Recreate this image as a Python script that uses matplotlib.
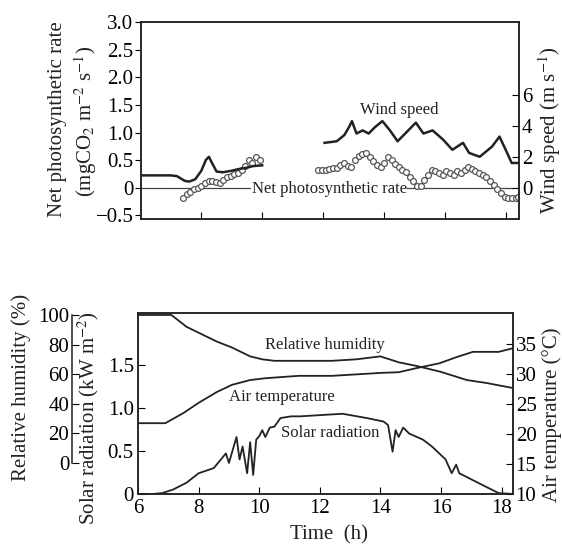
import matplotlib
matplotlib.use("Agg")
import matplotlib.pyplot as plt

plt.rcParams['font.family'] = ['Liberation Serif', 'DejaVu Serif']
plt.rcParams['mathtext.fontset'] = 'stix'

# ---- top panel data ----
# net photosynthetic rate (mgCO2 m-2 s-1), two measuring periods
rate_t1 = [7.40, 7.52, 7.64, 7.76, 7.88, 8.00, 8.12, 8.24, 8.36, 8.48, 8.60,
           8.72, 8.84, 8.96, 9.08, 9.20, 9.32, 9.44, 9.56, 9.68, 9.80, 9.92]
rate_v1 = [-0.18, -0.12, -0.07, -0.03, 0.00, 0.03, 0.08, 0.13, 0.12, 0.10, 0.08,
           0.14, 0.19, 0.22, 0.25, 0.27, 0.33, 0.40, 0.50, 0.45, 0.55, 0.50]
rate_t2 = [11.85, 11.97, 12.09, 12.21, 12.33, 12.45, 12.57, 12.69, 12.81, 12.93,
           13.05, 13.17, 13.29, 13.41, 13.53, 13.65, 13.77, 13.89, 14.01, 14.13,
           14.25, 14.37, 14.49, 14.61, 14.73, 14.85, 14.97, 15.09, 15.21, 15.33,
           15.45, 15.57, 15.69, 15.81, 15.93, 16.05, 16.17, 16.29, 16.41, 16.53,
           16.65, 16.77, 16.89, 17.01, 17.13, 17.25, 17.37, 17.49, 17.61, 17.73,
           17.85, 17.97, 18.09, 18.21, 18.33, 18.42]
rate_v2 = [0.33, 0.33, 0.33, 0.34, 0.35, 0.36, 0.42, 0.45, 0.40, 0.38,
           0.50, 0.58, 0.62, 0.63, 0.56, 0.48, 0.42, 0.38, 0.45, 0.56,
           0.50, 0.43, 0.38, 0.33, 0.28, 0.20, 0.12, 0.03, 0.04, 0.15,
           0.24, 0.32, 0.30, 0.26, 0.24, 0.30, 0.27, 0.24, 0.30, 0.26,
           0.33, 0.37, 0.34, 0.30, 0.27, 0.23, 0.19, 0.13, 0.06, -0.03,
           -0.10, -0.16, -0.18, -0.18, -0.18, -0.17]

# wind speed (m s-1)
wind_t1 = [6.0, 6.5, 7.0, 7.2, 7.45, 7.6, 7.8, 8.0, 8.15, 8.25, 8.35, 8.5,
           8.7, 9.0, 9.2, 9.5, 9.7, 10.0]
wind_v1 = [0.8, 0.8, 0.8, 0.75, 0.45, 0.4, 0.55, 1.1, 1.8, 2.0, 1.6, 1.05,
           1.0, 1.1, 1.2, 1.3, 1.4, 1.45]
wind_t2 = [12.05, 12.45, 12.7, 12.85, 12.95, 13.1, 13.3, 13.5, 13.7, 13.95,
           14.2, 14.45, 14.75, 15.05, 15.3, 15.6, 15.95, 16.25, 16.6, 16.8,
           17.15, 17.55, 17.8, 18.05, 18.2, 18.45]
wind_v2 = [2.9, 3.0, 3.4, 3.9, 4.3, 3.5, 3.7, 3.5, 3.9, 4.3,
           3.7, 3.0, 3.6, 4.2, 3.5, 3.7, 3.1, 2.45, 2.9, 2.25,
           2.0, 2.65, 3.3, 2.25, 1.6, 1.6]

# ---- bottom panel data ----
rh_t = [6.0, 7.1, 7.6, 8.0, 8.6, 9.1, 9.7, 10.1, 10.5, 11.3, 12.4, 13.2,
        14.0, 14.6, 15.2, 16.0, 16.85, 17.5, 18.37]
rh_v = [100, 100, 92, 88, 82, 78, 72, 70, 69, 69, 69, 70,
        72, 68, 65.5, 61.5, 56, 54, 50.6]

temp_t = [6.0, 6.9, 7.5, 8.0, 8.6, 9.1, 9.7, 10.2, 11.3, 12.4, 14.05, 14.6,
          15.2, 15.95, 16.5, 17.05, 17.9, 18.37]
temp_v = [21.8, 21.8, 23.5, 25.2, 27.0, 28.2, 29.0, 29.3, 29.7, 29.7, 30.2, 30.3,
          31.0, 31.8, 32.8, 33.7, 33.7, 34.3]

solar_t = [6.0, 6.5, 6.8, 7.15, 7.6, 8.0, 8.5, 8.9, 9.0, 9.25, 9.35, 9.45, 9.6,
           9.7, 9.8, 9.9, 10.0, 10.1, 10.2, 10.35, 10.5, 10.7, 11.05, 11.35,
           12.75, 13.55, 14.1, 14.25, 14.4, 14.5, 14.6, 14.75, 14.95, 15.4,
           15.7, 16.15, 16.35, 16.5, 16.6, 17.05, 17.5, 17.9, 18.37]
solar_v = [0, 0, 0.01, 0.05, 0.13, 0.24, 0.30, 0.47, 0.36, 0.66, 0.40, 0.55, 0.24,
           0.60, 0.22, 0.63, 0.67, 0.74, 0.66, 0.77, 0.78, 0.88, 0.90, 0.90,
           0.93, 0.88, 0.84, 0.80, 0.49, 0.74, 0.66, 0.77, 0.70, 0.63,
           0.55, 0.40, 0.24, 0.34, 0.24, 0.16, 0.08, 0.01, 0]

# tick labels
rate_ticks = [-0.5, 0, 0.5, 1.0, 1.5, 2.0, 2.5, 3.0]
rate_labels = ["\u22120.5", "0", "0.5", "1.0", "1.5", "2.0", "2.5", "3.0"]
wind_ticks = [0, 2, 4, 6]
hours = [6, 8, 10, 12, 14, 16, 18]
solar_ticks = [0, 0.5, 1.0, 1.5]
solar_labels = ["0", "0.5", "1.0", "1.5"]
rh_ticks = [0, 20, 40, 60, 80, 100]
temp_ticks = [10, 15, 20, 25, 30, 35]

ink = '#222222'
tick_fs = 15
lab_fs = 15
note_fs = 12

fig = plt.figure(figsize=(5.62, 5.47), dpi=100)

# ================= top panel =================
ax1 = fig.add_axes([0.250, 0.600, 0.674, 0.360])
ax1.axhline(0, color='#444444', lw=0.9)
ax1.plot(rate_t1, rate_v1, 'o', ms=4.2, mfc='white', mec='#555555', mew=0.9)
ax1.plot(rate_t2, rate_v2, 'o', ms=4.2, mfc='white', mec='#555555', mew=0.9)
ax1.set_xlim(6, 18.45)
ax1.set_ylim(-0.56, 3.0)
ax1.set_yticks(rate_ticks)
ax1.set_yticklabels(rate_labels)
ax1.set_xticks(hours[1:])
ax1.set_xticklabels([])
ax1.tick_params(axis='y', direction='out', labelsize=tick_fs, length=4, pad=1)
ax1.tick_params(axis='x', direction='in', length=5)
ax1.text(12.2, -0.03, "Net photosynthetic rate", ha='center', va='center',
         fontsize=note_fs, color=ink,
         bbox=dict(facecolor='white', edgecolor='none', pad=0.5))

ax1w = ax1.twinx()
ax1w.plot(wind_t1, wind_v1, color=ink, lw=1.8)
ax1w.plot(wind_t2, wind_v2, color=ink, lw=1.8)
ax1w.set_ylim(-2.0, 10.7)
ax1w.set_yticks(wind_ticks)
ax1w.tick_params(axis='y', direction='in', labelsize=tick_fs, length=5, pad=2)
ax1w.text(14.5, 5.0, "Wind speed", ha='center', va='center', fontsize=note_fs, color=ink)

for a in (ax1, ax1w):
    for s in a.spines.values():
        s.set_linewidth(1.1)
        s.set_color(ink)

fig.text(0.103, 0.782, "Net photosynthetic rate", rotation=90,
         ha='center', va='center', fontsize=lab_fs, color=ink)
fig.text(0.153, 0.777, "(mgCO$_2$ m$^{-2}$ s$^{-1}$)", rotation=90,
         ha='center', va='center', fontsize=lab_fs, color=ink)
fig.text(0.978, 0.762, "Wind speed (m s$^{-1}$)", rotation=90,
         ha='center', va='center', fontsize=lab_fs, color=ink)

# ================= bottom panel =================
ax2 = fig.add_axes([0.2456, 0.097, 0.667, 0.331])
ax2.plot(solar_t, solar_v, color=ink, lw=1.3)
ax2.set_xlim(6, 18.37)
ax2.set_ylim(0, 2.1)
ax2.set_xticks(hours)
ax2.set_yticks(solar_ticks)
ax2.set_yticklabels(solar_labels)
ax2.tick_params(axis='both', direction='in', labelsize=tick_fs, length=5)
ax2.tick_params(axis='y', pad=3)
ax2.text(12.35, 0.71, "Solar radiation", ha='center', va='center',
         fontsize=note_fs, color=ink)

ax2t = ax2.twinx()
ax2t.plot(temp_t, temp_v, color=ink, lw=1.3)
ax2t.set_ylim(10, 40.2)
ax2t.set_yticks(temp_ticks)
ax2t.tick_params(axis='y', direction='in', labelsize=tick_fs, length=5, pad=2)
ax2t.text(10.75, 26.2, "Air temperature", ha='center', va='center',
          fontsize=note_fs, color=ink)

ax2h = ax2.twinx()
ax2h.plot(rh_t, rh_v, color=ink, lw=1.3)
ax2h.set_ylim(-21, 101.4)
ax2h.set_yticks(rh_ticks)
ax2h.spines['left'].set_position(('axes', -0.176))
ax2h.spines['left'].set_bounds(0, 100)
ax2h.spines['left'].set_visible(True)
for side in ('right', 'top', 'bottom'):
    ax2h.spines[side].set_visible(False)
ax2h.yaxis.set_ticks_position('left')
ax2h.yaxis.set_label_position('left')
ax2h.tick_params(axis='y', direction='in', labelsize=tick_fs, length=5, pad=2)
ax2h.text(12.15, 80, "Relative humidity", ha='center', va='center',
          fontsize=note_fs, color=ink)

for a in (ax2, ax2t, ax2h):
    for s in a.spines.values():
        s.set_linewidth(1.1)
        s.set_color(ink)

fig.text(0.037, 0.292, "Relative humidity (%)", rotation=90,
         ha='center', va='center', fontsize=lab_fs, color=ink)
fig.text(0.157, 0.235, "Solar radiation (kW m$^{-2}$)", rotation=90,
         ha='center', va='center', fontsize=lab_fs, color=ink)
fig.text(0.982, 0.241, "Air temperature (\u00b0C)", rotation=90,
         ha='center', va='center', fontsize=lab_fs, color=ink)
fig.text(0.585, 0.022, "Time  (h)", ha='center', va='center',
         fontsize=lab_fs, color=ink)

fig.savefig("out.png", dpi=100)
